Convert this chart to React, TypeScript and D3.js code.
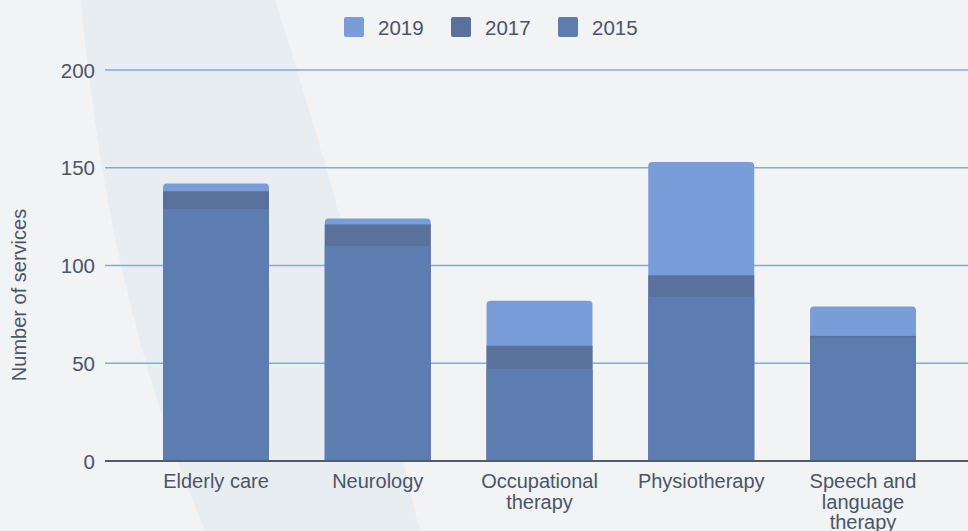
import React from "react";
import * as d3 from "d3";

const categories = [
  ["Elderly care"],
  ["Neurology"],
  ["Occupational", "therapy"],
  ["Physiotherapy"],
  ["Speech and", "language", "therapy"],
];
const series = ["2019", "2017", "2015"];
const values2019 = [142, 124, 82, 153, 79];
const values2017 = [138, 121, 59, 95, 64];
const values2015 = [129, 110, 47, 84, 63];
const yTicks = [0, 50, 100, 150, 200];

const colors: Record<string, string> = {
  "2019": "#789dd8",
  "2017": "#5a719c",
  "2015": "#5d7cb0",
};

const W = 968;
const H = 531;
const FONT = "'Liberation Sans', Arial, sans-serif";
const TEXT = "#4b5569";

function topRounded(x: number, y: number, w: number, h: number, r: number) {
  const p = d3.path();
  p.moveTo(x, y + h);
  p.lineTo(x, y + r);
  p.quadraticCurveTo(x, y, x + r, y);
  p.lineTo(x + w - r, y);
  p.quadraticCurveTo(x + w, y, x + w, y + r);
  p.lineTo(x + w, y + h);
  p.closePath();
  return p.toString();
}

export default function App() {
  const keys = categories.map((c) => c.join(" "));
  const step = 161.75;
  const x = d3
    .scaleBand<string>()
    .domain(keys)
    .range([216 - step / 2, 216 - step / 2 + step * 5])
    .paddingInner(0.345)
    .paddingOuter(0.345 / 2);
  const y = d3.scaleLinear().domain([0, 200]).range([461, 70]);
  const bw = x.bandwidth();
  const data: Record<string, number[]> = {
    "2019": values2019,
    "2017": values2017,
    "2015": values2015,
  };

  return (
    <svg
      width={W}
      height={H}
      style={{ position: "absolute", left: 0, top: 0, display: "block" }}
    >
      <rect x={0} y={0} width={W} height={H} fill="#f1f3f4" />
      <path
        d="M80,0 C95,120 110,300 205,531 L420,531 C395,430 370,300 275,0 Z"
        fill="#e7edf1"
      />
      {yTicks
        .filter((t) => t !== 0)
        .map((t) => (
          <line
            key={t}
            x1={105}
            x2={W}
            y1={y(t)}
            y2={y(t)}
            stroke="#86a9dc"
            strokeWidth={1.5}
          />
        ))}
      {keys.map((k, i) => {
        const x0 = x(k)!;
        const h19 = y(0) - y(values2019[i]);
        return (
          <g key={k}>
            <path
              d={topRounded(x0, y(values2019[i]), bw, h19, 4)}
              fill={colors["2019"]}
            />
            <rect
              x={x0}
              y={y(data["2017"][i])}
              width={bw}
              height={y(0) - y(data["2017"][i])}
              fill={colors["2017"]}
            />
            <rect
              x={x0}
              y={y(data["2015"][i])}
              width={bw}
              height={y(0) - y(data["2015"][i])}
              fill={colors["2015"]}
            />
          </g>
        );
      })}
      <line x1={105} x2={W} y1={y(0)} y2={y(0)} stroke="#555b66" strokeWidth={2} />
      {yTicks.map((t) => (
        <text
          key={t}
          x={95}
          y={y(t) + 7.5}
          textAnchor="end"
          fontFamily={FONT}
          fontSize={20.5}
          fill={TEXT}
        >
          {t}
        </text>
      ))}
      <text
        transform={`translate(26,295) rotate(-90)`}
        textAnchor="middle"
        fontFamily={FONT}
        fontSize={20}
        fill={TEXT}
      >
        Number of services
      </text>
      {categories.map((lines, i) => {
        const cx = x(keys[i])! + bw / 2;
        return (
          <text
            key={keys[i]}
            textAnchor="middle"
            fontFamily={FONT}
            fontSize={20}
            fill={TEXT}
          >
            {lines.map((l, j) => (
              <tspan key={j} x={cx} y={488 + j * 20.5}>
                {l}
              </tspan>
            ))}
          </text>
        );
      })}
      {series.map((s, i) => {
        const lx = 344 + i * 107;
        return (
          <g key={s}>
            <rect x={lx} y={17} width={20} height={20} rx={2} fill={colors[s]} />
            <text
              x={lx + 34}
              y={34.5}
              fontFamily={FONT}
              fontSize={20.5}
              fill={TEXT}
            >
              {s}
            </text>
          </g>
        );
      })}
    </svg>
  );
}
